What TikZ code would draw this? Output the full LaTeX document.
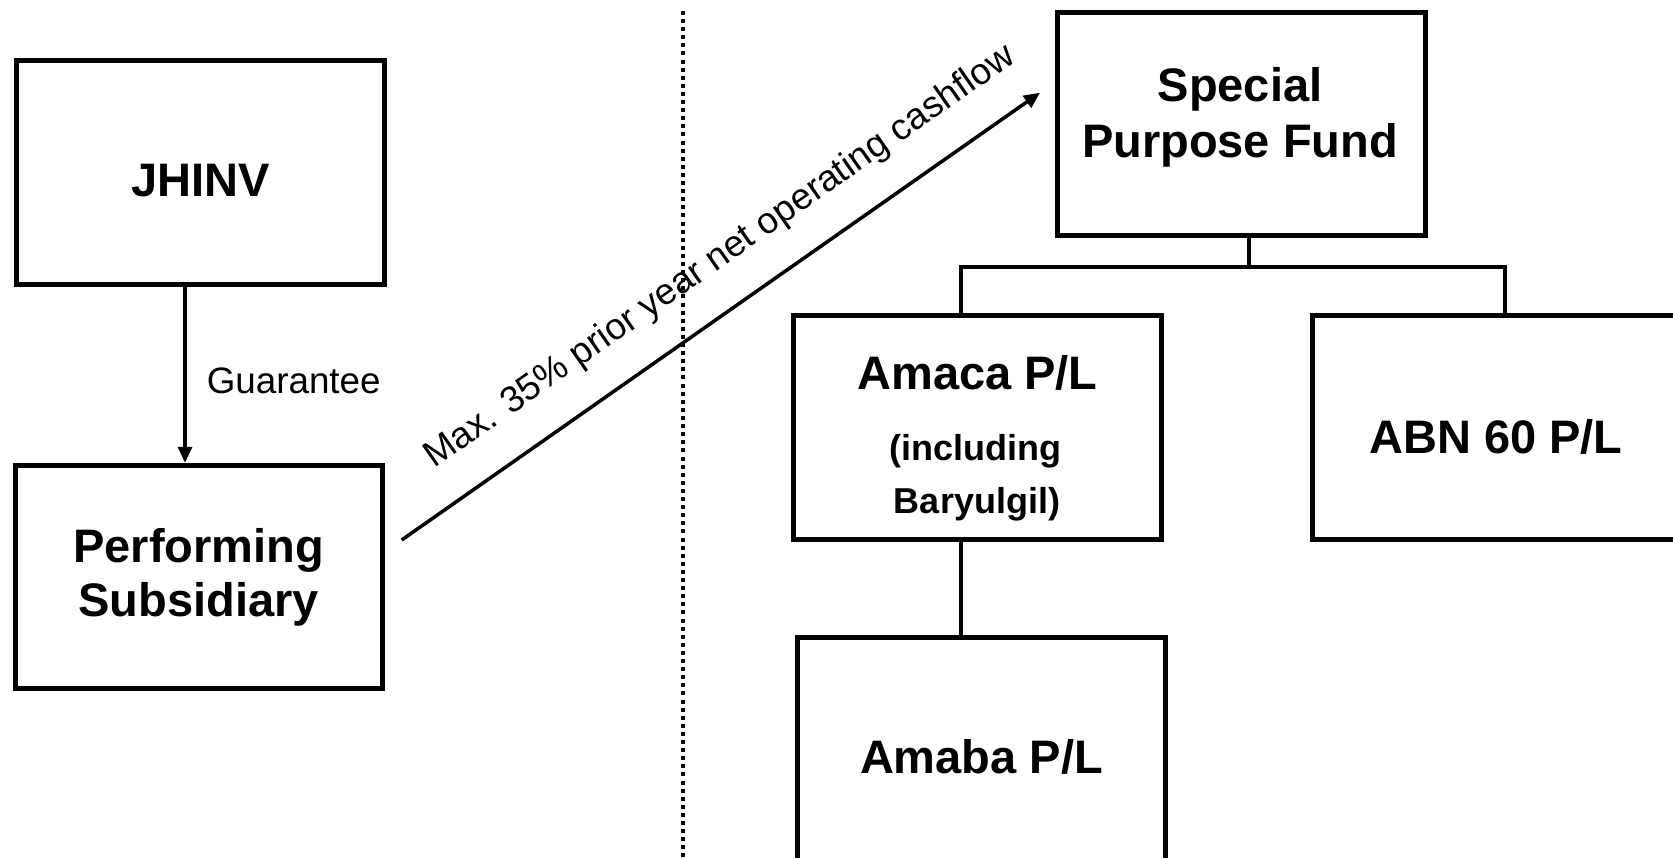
\documentclass[tikz,border=0pt]{standalone}
\usepackage{fontspec}
\setmainfont{Liberation Sans}
\usetikzlibrary{arrows.meta}
\begin{document}
\begin{tikzpicture}[x=1pt,y=-1pt,
  box/.style={draw, line width=5pt, minimum width=367.5pt, minimum height=223.7pt, inner sep=0pt},
  boxtext/.style={font=\fontsize{47}{54}\selectfont\bfseries, inner sep=0pt, anchor=base},
  subtext/.style={font=\fontsize{36}{42}\selectfont\bfseries, inner sep=0pt, anchor=base},
  lbl/.style={font=\fontsize{36.8}{42}\selectfont, inner sep=0pt, anchor=base},
  conn/.style={line width=3.5pt},
  arr/.style={line width=3.5pt, -{Triangle[width=14pt,length=16pt]}},
  dotline/.style={line width=4pt, dash pattern=on 4pt off 4.1pt}]
\useasboundingbox (0,0) rectangle (1673,858);
\clip (0,0) rectangle (1673,858);

% boxes
\node[box] (jhinv) at (200.6,172.25) {};
\node[box] (perf)  at (198.75,577.1) {};
\node[box] (spf)   at (1241.25,124.15) {};
\node[box] (amaca) at (977.5,427.5) {};
\node[box] (abn)   at (1496.5,427.5) {};
\node[box, minimum height=240pt] (amaba) at (981.5,757) {};

% box texts
\node[boxtext] (tj)  at (200.6,196.7) {JHINV};
\node[boxtext] (tp1) at (198.75,562.7) {Performing};
\node[boxtext] (tp2) at (198.75,616.7) {Subsidiary};
\node[boxtext] (ts1) at (1240,101.7) {Special};
\node[boxtext] (ts2) at (1240,158) {Purpose Fund};
\node[boxtext] (ta1) at (977.5,390) {Amaca P/L};
\node[subtext] (ta2) at (975,460.7) {(including};
\node[subtext] (ta3) at (977,513.3) {Baryulgil)};
\node[boxtext] (tb)  at (1496,453.3) {ABN 60 P/L};
\node[boxtext] (tm)  at (981.5,773.3) {Amaba P/L};

% guarantee
\draw[arr] ([xshift=-15.6pt]jhinv.south) -- ([xshift=-13.75pt]perf.north);
\node[lbl] (guar) at (293.7,393.3) {Guarantee};

% dotted divider
\coordinate (dtop) at (682.8,11);
\coordinate (dbot) at (682.8,858);
\draw[dotline] (dtop) -- (dbot);

% cashflow arrow
\coordinate (cfs) at (401.7,540);
\coordinate (cfe) at (1040,92.7);
\draw[arr] (cfs) -- (cfe);
\node[lbl, rotate=35] (cf) at (725.9,265) {Max. 35\% prior year net operating cashflow};

% tree
\coordinate (bus) at (0,267);
\coordinate (spfB) at ([xshift=7.75pt]spf.south);
\coordinate (amacaT) at ([xshift=-16.5pt]amaca.north);
\coordinate (abnT) at ([xshift=8.5pt]abn.north);
\draw[conn] (spfB) -- (spfB |- bus);
\draw[conn] (amacaT) |- (abnT |- bus) -- (abnT);
\draw[conn] ([xshift=-16.5pt]amaca.south) -- ([xshift=-20.5pt]amaba.north);
\end{tikzpicture}
\end{document}
